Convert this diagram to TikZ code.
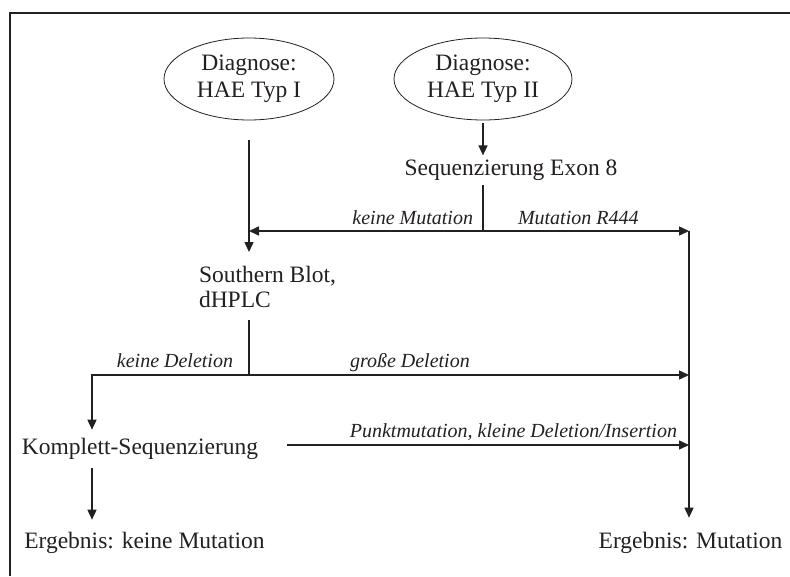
\documentclass[tikz,border=0pt]{standalone}
\usepackage{fontspec}
\setmainfont{Liberation Serif}
\usepackage{tikz}
\usetikzlibrary{shapes,arrows.meta}
\pgfdeclarelayer{edgelayer}
\pgfdeclarelayer{nodelayer}
\pgfsetlayers{edgelayer,nodelayer,main}
\definecolor{ink}{rgb}{0.14,0.12,0.13}
\tikzstyle{diagnosis}=[ellipse, draw=ink, text=ink, line width=0.8pt, inner sep=0pt, minimum height=82pt, align=center, font=\fontsize{23.5}{27}\selectfont]
\tikzstyle{stage}=[inner sep=0pt, outer sep=0pt, text=ink, align=left, font=\fontsize{23.5}{25}\selectfont]
\tikzstyle{branch}=[inner sep=0pt, outer sep=0pt, text=ink, font=\fontsize{20}{24}\selectfont\itshape]
\tikzstyle{wire}=[-, draw=ink, line width=1.5pt]
\tikzstyle{arrow}=[-{Triangle[length=10pt,width=9pt]}, draw=ink, line width=1.5pt]

\begin{document}
\begin{tikzpicture}[x=1pt, y=-1pt]
    \useasboundingbox (0,0) rectangle (790,576);
    \draw [draw=ink, line width=2pt] (10,576) -- (10,13) -- (790,13);
    \begin{pgfonlayer}{nodelayer}
        \node [style=diagnosis, minimum width=170pt] (typ1) at (249, 79) {Diagnose:\\HAE Typ I};
        \node [style=diagnosis, minimum width=178pt] (typ2) at (483, 79) {Diagnose:\\HAE Typ II};
        \node [style=stage, anchor=base] (exon8) at (511, 175) {Sequenzierung Exon 8};
        \node [style=stage, anchor=north west] (blot) at (199, 266) {Southern Blot,\\dHPLC};
        \node [style=stage, anchor=base] (full) at (140, 454) {Komplett-Sequenzierung};
        \node [style=stage, anchor=base] (none) at (144.5, 548) {Ergebnis: keine Mutation};
        \node [style=stage, anchor=base] (found) at (690.5, 548) {Ergebnis: Mutation};
        \coordinate (mut) at (483, 231);
        \coordinate (mutR) at (689, 231);
        \coordinate (del) at (249, 375);
        \coordinate (delL) at (92, 375);
        \coordinate (delR) at (689, 375);
        \coordinate (pktR) at (689, 445);
        \node [style=branch, anchor=base east] (nomut) at ([xshift=-10pt, yshift=7pt]mut) {keine Mutation};
        \node [style=branch, anchor=base west] (r444) at ([xshift=35pt, yshift=7pt]mut) {Mutation R444};
        \node [style=branch, anchor=base east] (nodel) at ([xshift=-16pt, yshift=8pt]del) {keine Deletion};
        \node [style=branch, anchor=base west] (bigdel) at ([xshift=101pt, yshift=8pt]del) {große Deletion};
        \node [style=branch, anchor=base east] (point) at ([xshift=-12pt, yshift=8pt]pktR) {Punktmutation, kleine Deletion/Insertion};
    \end{pgfonlayer}
    \begin{pgfonlayer}{edgelayer}
        \draw [style=arrow, shorten <=20pt, shorten >=14pt] (typ1.south) to (typ1.south |- blot.north);
        \draw [style=arrow, shorten <=3pt, shorten >=4pt] (typ2.south) to (typ2.south |- exon8.north);
        \draw [style=wire, shorten <=5pt] (mut |- exon8.south) to (mut);
        \draw [style=arrow] (mut) to (mut -| typ1.south);
        \draw [style=arrow] (mut) to (mutR);
        \draw [style=arrow, shorten >=14pt] (mutR) to (mutR |- found.north);
        \draw [style=wire, shorten <=12pt] (del |- blot.south) to (del);
        \draw [style=arrow, shorten >=8pt] (del) -- (delL) -- (delL |- full.north);
        \draw [style=arrow] (del) to (delR);
        \draw [style=arrow, shorten <=29pt] (full.east |- pktR) to (pktR);
        \draw [style=arrow, shorten <=9pt, shorten >=12pt] (delL |- full.south) to (delL |- none.north);
    \end{pgfonlayer}
\end{tikzpicture}
\end{document}
